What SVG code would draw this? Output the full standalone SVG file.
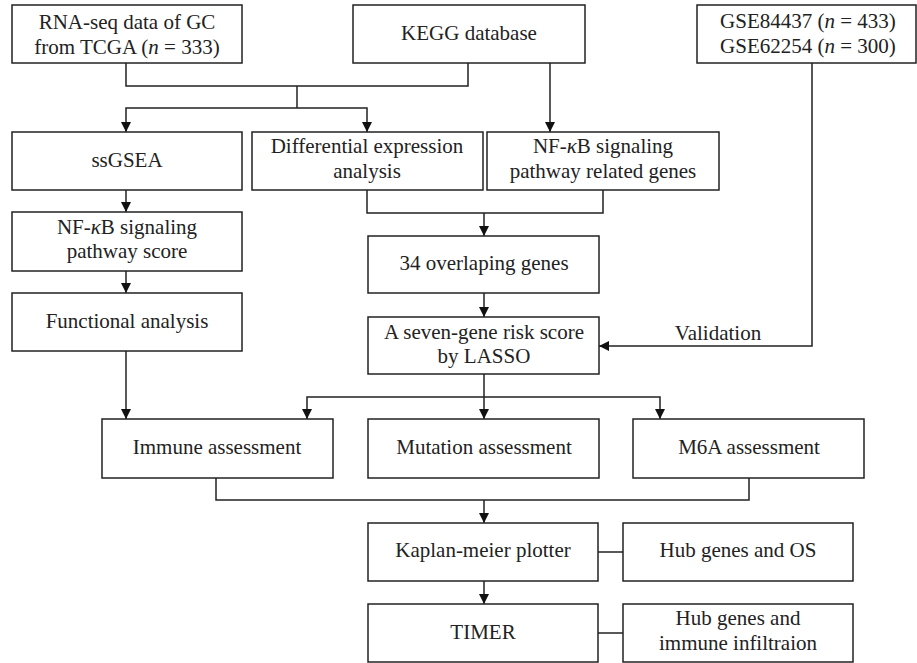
<svg xmlns="http://www.w3.org/2000/svg" width="917" height="663" viewBox="0 0 917 663">
<defs>
<style>
.box{fill:#fff;stroke:#222;stroke-width:1.5}
.t{font-family:"Liberation Serif","Times New Roman",serif;font-size:21px;fill:#222;text-anchor:middle}
.i{font-style:italic}
.c{fill:none;stroke:#222;stroke-width:1.5}
</style>
<marker id="ah" markerUnits="userSpaceOnUse" markerWidth="12" markerHeight="12" refX="10" refY="5" orient="auto">
<path d="M0,0 L10,5 L0,10 z" fill="#111"/>
</marker>
</defs>
<rect width="917" height="663" fill="#fff"/>
<g id="connectors">
<path class="c" d="M126,63 V86 H468 V63"/>
<path class="c" d="M297,86 V108"/>
<path class="c" d="M297,108 H126 V132" marker-end="url(#ah)"/>
<path class="c" d="M297,108 H367 V132" marker-end="url(#ah)"/>
<path class="c" d="M550,63 V132" marker-end="url(#ah)"/>
<path class="c" d="M367,190 V213 H603 V190"/>
<path class="c" d="M484,213 V236" marker-end="url(#ah)"/>
<path class="c" d="M126,190 V212" marker-end="url(#ah)"/>
<path class="c" d="M126,271 V293" marker-end="url(#ah)"/>
<path class="c" d="M126,351 V419" marker-end="url(#ah)"/>
<path class="c" d="M484,293 V317" marker-end="url(#ah)"/>
<path class="c" d="M812,63 V346 H599" marker-end="url(#ah)"/>
<path class="c" d="M484,374 V419" marker-end="url(#ah)"/>
<path class="c" d="M484,397 H307 V419" marker-end="url(#ah)"/>
<path class="c" d="M484,397 H660 V419" marker-end="url(#ah)"/>
<path class="c" d="M216,478 V500 H749 V478"/>
<path class="c" d="M484,500 V523" marker-end="url(#ah)"/>
<path class="c" d="M484,581 V604" marker-end="url(#ah)"/>
<path class="c" d="M598,552 H623"/>
<path class="c" d="M598,633 H623"/>
<text class="t" x="718" y="340">Validation</text>
</g>
<g id="rna">
<rect class="box" x="12" y="5" width="230" height="58"/>
<text class="t" x="127" y="29">RNA-seq data of GC</text>
<text class="t" x="127" y="54">from TCGA (<tspan class="i">n</tspan> = 333)</text>
</g>
<g id="kegg">
<rect class="box" x="353" y="5" width="232" height="58"/>
<text class="t" x="469" y="40">KEGG database</text>
</g>
<g id="gse">
<rect class="box" x="697" y="5" width="219" height="58"/>
<text class="t" x="808" y="28">GSE84437 (<tspan class="i">n</tspan> = 433)</text>
<text class="t" x="808" y="53">GSE62254 (<tspan class="i">n</tspan> = 300)</text>
</g>
<g id="ssgsea">
<rect class="box" x="12" y="132" width="230" height="58"/>
<text class="t" x="127" y="167">ssGSEA</text>
</g>
<g id="diff">
<rect class="box" x="252" y="132" width="231" height="58"/>
<text class="t" x="367" y="153">Differential expression</text>
<text class="t" x="367" y="178">analysis</text>
</g>
<g id="nfkb-genes">
<rect class="box" x="487" y="132" width="232" height="58"/>
<text class="t" x="603" y="153">NF-<tspan class="i">κ</tspan>B signaling</text>
<text class="t" x="603" y="178">pathway related genes</text>
</g>
<g id="nfkb-score">
<rect class="box" x="12" y="212" width="230" height="59"/>
<text class="t" x="127" y="234">NF-<tspan class="i">κ</tspan>B signaling</text>
<text class="t" x="127" y="258">pathway score</text>
</g>
<g id="functional">
<rect class="box" x="12" y="293" width="230" height="58"/>
<text class="t" x="127" y="328">Functional analysis</text>
</g>
<g id="overlap">
<rect class="box" x="368" y="236" width="231" height="57"/>
<text class="t" x="484" y="270">34 overlaping genes</text>
</g>
<g id="lasso">
<rect class="box" x="368" y="317" width="231" height="57"/>
<text class="t" x="484" y="339">A seven-gene risk score</text>
<text class="t" x="484" y="363">by LASSO</text>
</g>
<g id="immune">
<rect class="box" x="102" y="419" width="231" height="59"/>
<text class="t" x="217" y="454">Immune assessment</text>
</g>
<g id="mutation">
<rect class="box" x="368" y="419" width="231" height="59"/>
<text class="t" x="484" y="454">Mutation assessment</text>
</g>
<g id="m6a">
<rect class="box" x="633" y="419" width="231" height="59"/>
<text class="t" x="749" y="454">M6A assessment</text>
</g>
<g id="kaplan">
<rect class="box" x="368" y="523" width="230" height="58"/>
<text class="t" x="483" y="557">Kaplan-meier plotter</text>
</g>
<g id="hub-os">
<rect class="box" x="623" y="523" width="230" height="58"/>
<text class="t" x="738" y="557">Hub genes and OS</text>
</g>
<g id="timer">
<rect class="box" x="368" y="604" width="230" height="58"/>
<text class="t" x="483" y="639">TIMER</text>
</g>
<g id="hub-immune">
<rect class="box" x="623" y="604" width="230" height="58"/>
<text class="t" x="738" y="625">Hub genes and</text>
<text class="t" x="738" y="650">immune infiltraion</text>
</g>
</svg>
